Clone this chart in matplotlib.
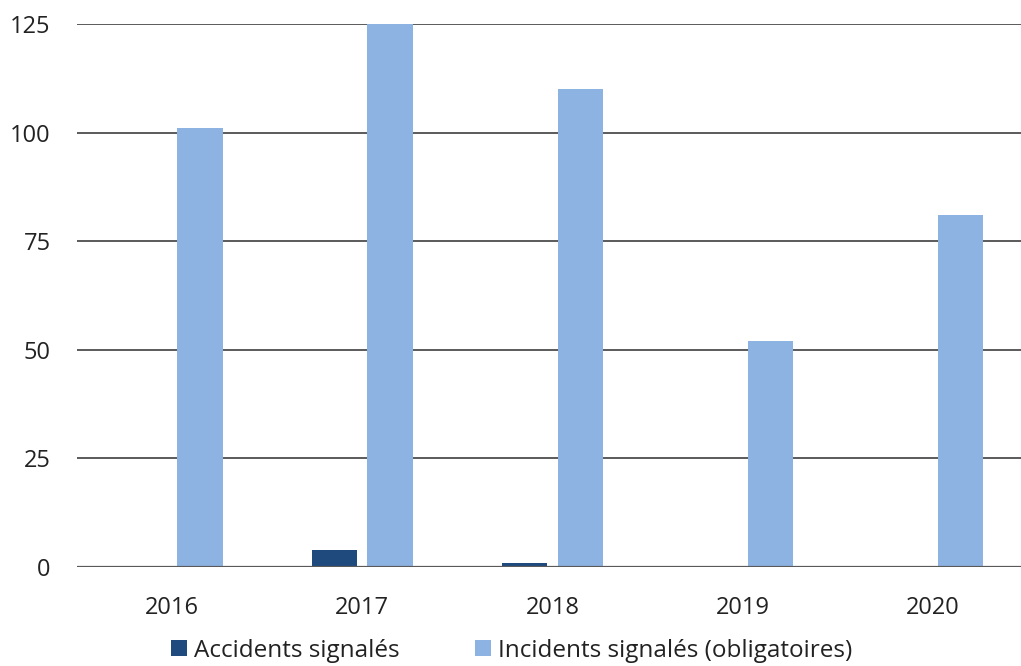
import numpy as np
import matplotlib
matplotlib.use("Agg")
from matplotlib import pyplot as plt

years = ["2016", "2017", "2018", "2019", "2020"]
accidents = [0, 4, 1, 0, 0]
incidents = [101, 125, 110, 52, 81]

plt.rcParams['font.family'] = ['Open Sans', 'DejaVu Sans']

fig = plt.figure(figsize=(10.21, 6.66), dpi=100)
ax = fig.add_axes([77/1021, 1 - 567/666, 951/1021, 543/666])

x = np.arange(len(years))
w = 0.238
off = 0.146
ax.bar(x - off, accidents, w, color="#1f4a7e", label="Accidents signalés", zorder=3)
ax.bar(x + off, incidents, w, color="#8db3e2", label="Incidents signalés (obligatoires)", zorder=3)

ax.set_xlim(-0.5, len(years) - 0.5)
ax.set_ylim(0, 125)
ax.set_yticks([0, 25, 50, 75, 100, 125])
ax.set_xticks(x)
ax.set_xticklabels(years)
ax.yaxis.grid(True, color="#5a5a5a", linewidth=1.4, zorder=0)
ax.set_axisbelow(True)
for s in ax.spines.values():
    s.set_visible(False)
ax.axhline(0, color="#5a5a5a", linewidth=1.6, zorder=4)
ax.tick_params(length=0, labelsize=17, colors="#222222", pad=19)
ax.tick_params(axis="x", pad=21)

fig.legend(loc="center", bbox_to_anchor=(0.501, 0.023), ncol=2, frameon=False,
           fontsize=17.5, handlelength=0.65, handleheight=0.65, handletextpad=0.3,
           columnspacing=3.1, labelcolor="#222222")

fig.savefig("out.png", dpi=100)
